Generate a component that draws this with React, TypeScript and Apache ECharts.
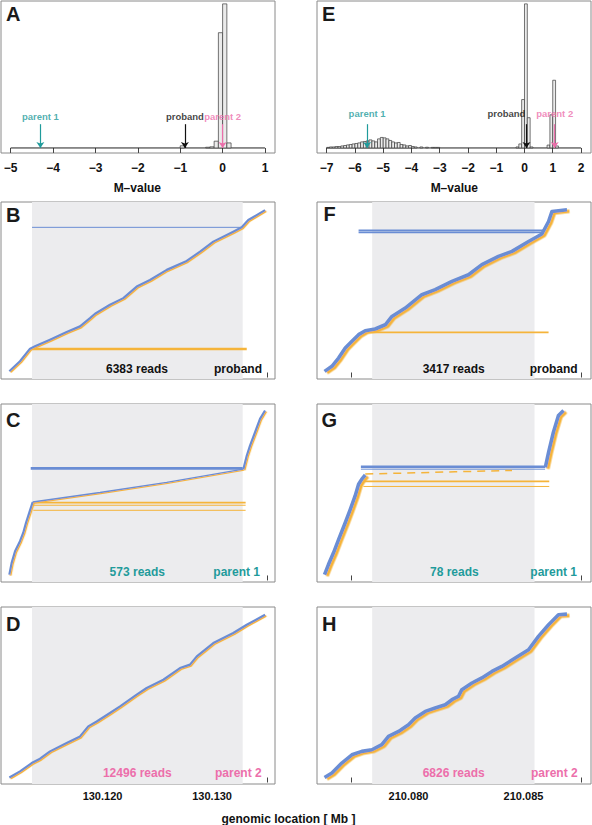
import React, { useEffect, useRef } from 'react';
import * as echarts from 'echarts';

const BLUE = '#6a8dd4';
const ORANGE = '#f5b43a';
const TEAL = '#1f9b9b';
const PINK = '#ec6fab';
const SHADE = '#ececee';
const FRAME = '#8a8a8a';
const FONT = '"Liberation Sans", Arial, Helvetica, sans-serif';

// ---------- histograms (M-value, bin start -> relative count) ----------
const HIST_BIN = 0.1;
const M_TICKS_A = [-5, -4, -3, -2, -1, 0, 1];
const M_TICKS_E = [-7, -6, -5, -4, -3, -2, -1, 0, 1, 2];
const HIST_A: number[][] = [
  [-1.0, 1.5], [-0.4, 0.5], [-0.3, 0.8], [-0.2, 4.7], [-0.1, 80], [0.0, 100], [0.1, 3.5],
];
const HIST_E: number[][] = [
  [-7.0, 0.4], [-6.9, 0.7], [-6.8, 0.7], [-6.7, 1.0], [-6.6, 1.0], [-6.5, 1.4], [-6.4, 1.7],
  [-6.3, 2.1], [-6.2, 2.4], [-6.1, 2.8], [-6.0, 3.1], [-5.9, 3.5], [-5.8, 4.2], [-5.7, 4.5],
  [-5.6, 4.9], [-5.5, 5.6], [-5.4, 4.9], [-5.3, 4.2], [-5.2, 6.3], [-5.1, 7.3], [-5.0, 7.0],
  [-4.9, 6.3], [-4.8, 5.2], [-4.7, 4.2], [-4.6, 3.5], [-4.5, 3.8], [-4.4, 2.4], [-4.3, 2.1],
  [-4.2, 1.4], [-4.1, 1.7], [-4.0, 1.0], [-3.9, 0.7], [-3.7, 0.7], [-3.5, 0.5], [-3.3, 0.4],
  [-3.2, 0.4], [-3.1, 0.4],
  [-0.3, 0.7], [-0.2, 2.8], [-0.1, 33.6], [0.0, 100], [0.1, 21], [0.2, 0.7],
  [0.8, 2], [0.9, 23], [1.0, 47], [1.1, 1.4],
];
const PEOPLE = ['parent 1', 'proband', 'parent 2'];
const PEOPLE_COLORS = [TEAL, '#111111', PINK];
const M_A = [-4.3, -0.89, 0.0];
const M_E = [-5.57, 0.07, 1.07];
const LABEL_M_A = [-4.3, -0.89, 0.0];
const LABEL_M_E = [-5.57, -0.64, 1.07];
const ARROW_TOP = 16.5;
const LABEL_LEVEL_A = 21.5;
const LABEL_LEVEL_E = 24;

// ---------- read plots (genomic position Mb, read rank %) ----------
const GENOME_TICKS_L = [130.115, 130.12, 130.125, 130.13, 130.135];
const GENOME_LABELS_L = [130.12, 130.13];
const GENOME_TICKS_R = [210.0775, 210.08, 210.0825, 210.085, 210.0875];
const GENOME_LABELS_R = [210.08, 210.085];
const SHADE_L = [130.11357, 130.13279];
const SHADE_R = [210.07842, 210.08548];
const READ_COUNTS = [6383, 573, 12496, 3417, 78, 6826]; // B C D F G H
const SAMPLES = ['proband', 'parent 1', 'parent 2', 'proband', 'parent 1', 'parent 2'];

const B_TRACK = [[130.1115, 0.8], [130.11247, 6.9], [130.11339, 14.7], [130.11384, 16.1], [130.11521, 20.2], [130.11673, 25], [130.11795, 28.4], [130.11886, 33.5], [130.11932, 36.2], [130.12068, 41.7], [130.1219, 45.8], [130.12312, 52.9], [130.12433, 57], [130.12586, 63.2], [130.12768, 68.7], [130.1289, 74.4], [130.13011, 80.6], [130.13193, 86.7], [130.1327, 89.4], [130.1333, 93.9], [130.13483, 100]];
const C_LEFT = [[130.1115, 0.5], [130.11171, 7.7], [130.11202, 14.8], [130.11247, 21], [130.11277, 26.2], [130.11302, 32.3], [130.11332, 38.5], [130.11363, 45]];
const C_MID = [[130.11363, 45], [130.11977, 50.8], [130.12586, 57], [130.13285, 65.1]];
const C_RIGHT = [[130.13285, 65.1], [130.13316, 73.3], [130.13346, 79.5], [130.13392, 87.7], [130.13437, 95.9], [130.13483, 101]];
const D_TRACK = [[130.1115, 0], [130.11247, 3.8], [130.11354, 8.9], [130.1143, 11.6], [130.11521, 16.1], [130.11673, 21.2], [130.11795, 25.3], [130.1187, 31.5], [130.11947, 34.5], [130.12068, 39.7], [130.1216, 43.8], [130.12312, 51], [130.12403, 55.1], [130.12555, 60.2], [130.12707, 67.4], [130.12798, 69.5], [130.1286, 74.6], [130.13011, 82.8], [130.13193, 89], [130.13316, 94.1], [130.13483, 100.2]];
const F_TRACK = [[210.07635, 0.7], [210.07667, 3.8], [210.07696, 8.9], [210.07725, 15.1], [210.07754, 19.2], [210.07783, 23.3], [210.07812, 25.7], [210.07855, 26.8], [210.07899, 29.4], [210.07928, 34.5], [210.07986, 39.7], [210.08058, 47.9], [210.08116, 51], [210.08189, 56.1], [210.08261, 60.2], [210.08319, 66.4], [210.08391, 71.5], [210.0845, 74.6], [210.08522, 80.7], [210.0858, 85.3], [210.08609, 93], [210.08624, 99.2], [210.08689, 100.2]];
const G_LEFT = [[210.07635, 0.5], [210.07652, 6.7], [210.07674, 13.9], [210.07696, 22], [210.07725, 32.3], [210.07747, 40.5], [210.07768, 48.7], [210.07783, 55.9], [210.07797, 59], [210.07812, 61.5]];
const G_MID = [[210.07812, 62.1], [210.08203, 63.5], [210.0845, 64.3]];
const G_RIGHT = [[210.08595, 66.2], [210.08609, 75.4], [210.0863, 87.7], [210.08652, 98], [210.08674, 101]];
const H_TRACK = [[210.07635, 0], [210.07667, 2.8], [210.0771, 8.9], [210.07754, 14], [210.07797, 16.1], [210.07841, 17.1], [210.07884, 20.2], [210.07913, 25.3], [210.07957, 28.4], [210.08, 32.5], [210.08029, 36.6], [210.08073, 40.7], [210.08116, 42.8], [210.0816, 44.8], [210.08189, 47.9], [210.08217, 49.9], [210.08232, 54.1], [210.08276, 58.2], [210.08319, 61.3], [210.08363, 65.3], [210.08406, 68.4], [210.08464, 73.6], [210.08522, 78.7], [210.08565, 86.9], [210.08609, 94.1], [210.08652, 100.2], [210.08689, 100.6]];

// split reads spanning the deletion: [start Mb, end Mb, rank %, mate (0 blue / 1 orange), stacked reads]
const B_SPLIT = [[130.11357, 130.1327, 89.4, 0, 1], [130.11366, 130.13316, 14.5, 1, 3]];
const C_SPLIT = [[130.11345, 130.13279, 65.6, 0, 3], [130.11369, 130.13306, 44.6, 1, 2], [130.11369, 130.13306, 43, 1, 1], [130.11369, 130.13306, 39.9, 1, 1]];
const F_SPLIT = [[210.07783, 210.08587, 87.5, 0, 2], [210.07783, 210.08587, 86.3, 0, 2], [210.07812, 210.08609, 24.7, 1, 2]];
const G_SPLIT = [[210.07793, 210.08594, 66.6, 0, 3], [210.07793, 210.08594, 65.1, 0, 1], [210.07804, 210.08612, 57.6, 1, 2], [210.07804, 210.08612, 54.5, 1, 1]];

const fmtM = (v: number) => (v < 0 ? '\u2212' + Math.abs(v) : String(v));

function buildOption() {
  const GRID_BOXES = [
    [1, 1, 274, 152], [317, 1, 274, 152],
    [1, 202, 274, 177], [317, 202, 274, 177],
    [1, 404, 274, 178], [317, 404, 274, 178],
    [1, 607, 274, 177], [317, 607, 274, 177],
  ];
  const grid = GRID_BOXES.map(([l, t, w, h]) => ({
    left: l, top: t, width: w, height: h, show: true, borderColor: FRAME, borderWidth: 1,
    backgroundColor: 'transparent', containLabel: false, outerBoundsMode: 'none',
  }));

  const labelStyle = { fontFamily: FONT, fontSize: 12, fontWeight: 'bold', color: '#111' };
  const xAxis: any[] = [];
  const yAxis: any[] = [];
  const histAxis = (gi: number, min: number, max: number, ticks: number[]) => ({
    gridIndex: gi, type: 'value', min, max,
    axisLine: { show: false },
    axisTick: { show: true, customValues: ticks, length: 5, lineStyle: { color: '#444' } },
    axisLabel: { customValues: ticks, formatter: fmtM, margin: 9, ...labelStyle },
    splitLine: { show: false },
  });
  xAxis.push(histAxis(0, -5.229, 1.236, M_TICKS_A));
  xAxis.push(histAxis(1, -7.343, 2.354, M_TICKS_E));
  yAxis.push({ gridIndex: 0, type: 'value', min: -3.5, max: 102, show: false });
  yAxis.push({ gridIndex: 1, type: 'value', min: -3.5, max: 102, show: false });

  const readAxis = (gi: number, left: boolean, withLabels: boolean) => ({
    gridIndex: gi, type: 'value',
    min: left ? 130.110739 : 210.076022,
    max: left ? 130.135739 : 210.087935,
    axisLine: { show: false },
    axisTick: { show: true, customValues: left ? GENOME_TICKS_L : GENOME_TICKS_R, length: 5, lineStyle: { color: '#444' } },
    axisLabel: withLabels
      ? { customValues: left ? GENOME_LABELS_L : GENOME_LABELS_R, formatter: (v: number) => v.toFixed(3), margin: 6, ...labelStyle, fontSize: 11 }
      : { show: false },
    splitLine: { show: false },
  });
  for (let gi = 2; gi < 8; gi++) {
    const left = gi % 2 === 0;
    xAxis.push(readAxis(gi, left, gi >= 6));
    yAxis.push({ gridIndex: gi, type: 'value', min: -4, max: 105, show: false });
  }

  const series: any[] = [];
  const histSeries = (gi: number, data: number[][], ext: number[]) => {
    series.push({
      type: 'custom', xAxisIndex: gi, yAxisIndex: gi, data, z: 2,
      renderItem: (params: any, api: any) => {
        const x0 = api.value(0);
        const h = api.value(1);
        const p0 = api.coord([x0, h]);
        const p1 = api.coord([x0 + HIST_BIN, 0]);
        return {
          type: 'rect',
          shape: { x: p0[0], y: p0[1], width: p1[0] - p0[0], height: p1[1] - p0[1] },
          style: { fill: '#ebebeb', stroke: '#3a3a3a', lineWidth: 0.7 },
        };
      },
    });
    series.push({
      type: 'line', xAxisIndex: gi, yAxisIndex: gi, symbol: 'none', z: 1,
      data: [[ext[0], 0], [ext[ext.length - 1], 0]],
      lineStyle: { color: '#222', width: 1 },
    });
  };
  histSeries(0, HIST_A, M_TICKS_A);
  histSeries(1, HIST_E, M_TICKS_E);

  const arrows = (gi: number, ms: number[], labelMs: number[], level: number) => {
    series.push({
      type: 'line', xAxisIndex: gi, yAxisIndex: gi, data: [], z: 3,
      markLine: {
        silent: true, symbol: ['none', 'arrow'], symbolSize: 6, label: { show: false },
        data: ms.map((m, i) => [
          { coord: [m, ARROW_TOP], lineStyle: { color: PEOPLE_COLORS[i], width: 1.2, type: 'solid' } },
          { coord: [m, 0] },
        ]),
      },
    });
    series.push({
      type: 'scatter', xAxisIndex: gi, yAxisIndex: gi, symbolSize: 0, z: 4,
      data: labelMs.map((m, i) => ({
        value: [m, level],
        label: {
          show: true, position: 'inside', formatter: PEOPLE[i], color: PEOPLE_COLORS[i],
          fontFamily: FONT, fontSize: 9.5, fontWeight: 'bold',
        },
      })),
    });
  };
  arrows(0, M_A, LABEL_M_A, LABEL_LEVEL_A);
  arrows(1, M_E, LABEL_M_E, LABEL_LEVEL_E);

  const panels = [
    { gi: 2, left: true, tracks: [[B_TRACK, 'band']], split: B_SPLIT },
    { gi: 4, left: true, tracks: [[C_LEFT, 'band'], [C_MID, 'thin'], [C_RIGHT, 'band']], split: C_SPLIT },
    { gi: 6, left: true, tracks: [[D_TRACK, 'band']], split: [] },
    { gi: 3, left: false, tracks: [[F_TRACK, 'band']], split: F_SPLIT },
    { gi: 5, left: false, tracks: [[G_LEFT, 'band'], [G_MID, 'sparse'], [G_RIGHT, 'band']], split: G_SPLIT },
    { gi: 7, left: false, tracks: [[H_TRACK, 'band']], split: [] },
  ];
  panels.forEach((p) => {
    const sh = p.left ? SHADE_L : SHADE_R;
    series.push({
      type: 'line', xAxisIndex: p.gi, yAxisIndex: p.gi, data: [], z: 1,
      markArea: { silent: true, itemStyle: { color: SHADE }, data: [[{ xAxis: sh[0] }, { xAxis: sh[1] }]] },
    });
    (p.split as number[][]).forEach((s) => {
      series.push({
        type: 'line', xAxisIndex: p.gi, yAxisIndex: p.gi, symbol: 'none', z: 3,
        data: [[s[0], s[2]], [s[1], s[2]]],
        lineStyle: { color: s[3] === 0 ? BLUE : ORANGE, width: 0.8 * s[4] + 0.2 },
      });
    });
    p.tracks.forEach(([data, kind]: any) => {
      const wide = !p.left;
      let lineStyle: any;
      if (kind === 'band') {
        lineStyle = {
          color: BLUE, width: wide ? 3.6 : 2.2, join: 'round',
          shadowColor: ORANGE, shadowBlur: 0, shadowOffsetX: wide ? 2.5 : 1.2, shadowOffsetY: wide ? 1.5 : 1,
        };
      } else if (kind === 'thin') {
        lineStyle = { color: BLUE, width: 1.3, shadowColor: ORANGE, shadowBlur: 0, shadowOffsetX: 0.8, shadowOffsetY: 1 };
      } else {
        lineStyle = { color: ORANGE, width: 1.5, type: [8, 6] };
      }
      series.push({
        type: 'line', xAxisIndex: p.gi, yAxisIndex: p.gi, symbol: 'none', z: 4, data, lineStyle,
      });
    });
  });

  const txt = (text: string, x: number, y: number, opts: any = {}) => ({
    type: 'text', x, y, silent: true, z: 100, zlevel: 0,
    style: { text, fontFamily: FONT, fontSize: 12, fontWeight: 'bold', fill: '#111', align: 'center', verticalAlign: 'middle', ...opts },
  });
  const LETTERS: [string, number, number][] = [
    ['A', 6, 14], ['E', 322, 13.5], ['B', 6, 215], ['F', 323.5, 214.3],
    ['C', 6, 419.5], ['G', 321.5, 419.5], ['D', 6, 624.2], ['H', 322, 624.2],
  ];
  const graphic: any[] = LETTERS.map(([l, x, y]) => txt(l, x, y, { fontSize: 20, align: 'left', fill: '#1a1a1a' }));
  const SAMPLE_COLOR: Record<string, string> = { proband: '#111111', 'parent 1': TEAL, 'parent 2': PINK };
  const readPos = [
    [137, 369, 262], [137.3, 571.7, 260], [137.3, 773.3, 261.7],
    [453.7, 369, 577.7], [454.3, 571.7, 577], [453.7, 773.3, 577.7],
  ];
  READ_COUNTS.forEach((n, i) => {
    const [cx, cy, rx] = readPos[i];
    const col = SAMPLE_COLOR[SAMPLES[i]];
    graphic.push(txt(`${n} reads`, cx, cy, { fill: col }));
    graphic.push(txt(SAMPLES[i], rx, cy, { fill: col, align: 'right' }));
  });
  graphic.push(txt('M\u2013value', 137.3, 187.7));
  graphic.push(txt('M\u2013value', 454.3, 187.7));
  graphic.push(txt('genomic location [ Mb ]', 288.5, 819));

  return {
    animation: false,
    backgroundColor: '#ffffff',
    textStyle: { fontFamily: FONT },
    grid, xAxis, yAxis, series, graphic,
  };
}

export default function App() {
  const ref = useRef<HTMLDivElement>(null);
  useEffect(() => {
    document.body.style.margin = '0';
    const chart = echarts.init(ref.current!, null, { renderer: 'svg' });
    chart.setOption(buildOption() as any);
    return () => chart.dispose();
  }, []);
  return <div ref={ref} style={{ position: 'absolute', left: 0, top: 0, width: 592, height: 825, background: '#fff' }} />;
}
